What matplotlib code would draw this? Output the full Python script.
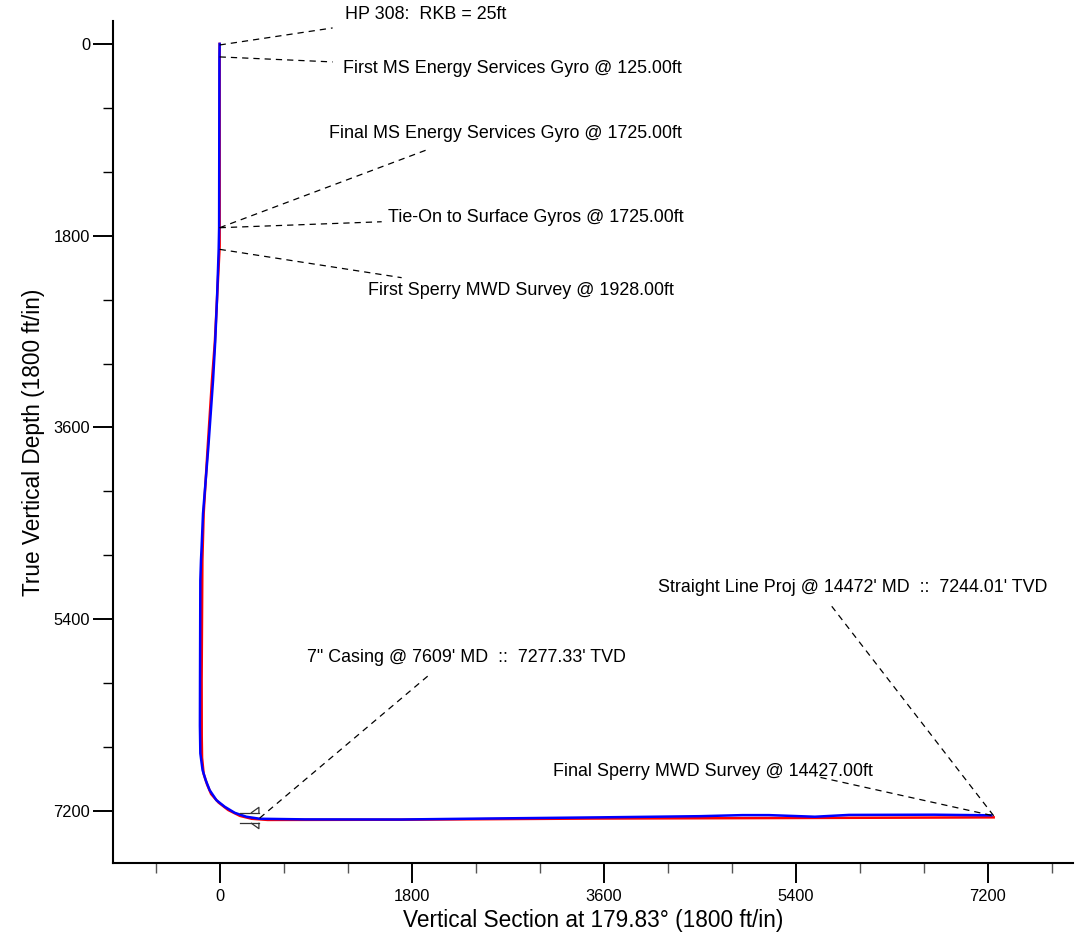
import matplotlib

matplotlib.use("Agg")
import matplotlib.pyplot as plt
from matplotlib.ticker import MultipleLocator

plt.rcParams["font.family"] = ["Liberation Sans", "DejaVu Sans"]

# actual wellbore (blue): vertical section, TVD
actual_vs = [0, -2, -5, -9, -25, -42, -62, -84, -106, -131, -156, -169, -175, -181, -184, -185,
             -181, -160, -131, -94, -31, 47, 141, 250, 375, 800, 1700, 2500, 3560, 4500, 4900,
             5150, 5580, 5900, 6700, 7234]
actual_tvd = [0, 125, 1725, 1928, 2400, 2800, 3159, 3472, 3784, 4097, 4409, 4722, 4847, 5034, 5972,
              6400, 6659, 6816, 6909, 7003, 7097, 7159, 7216, 7253, 7272, 7278, 7279, 7270, 7259,
              7248, 7238, 7238, 7253, 7236, 7234, 7240]

# planned wellbore (red)
plan_vs = [0, 0, -20, -45, -72, -112, -150, -162, -169, -168, -165, -150, -118, -80, -10, 80, 190,
           300, 450, 1700, 3500, 5000, 7256]
plan_tvd = [0, 1900, 2300, 2800, 3159, 3784, 4409, 4847, 5972, 6500, 6700, 6850, 6950, 7040, 7120,
            7190, 7245, 7272, 7283, 7281, 7270, 7266, 7259]

# annotations: label, well point, line end, text position
labels = [
    "HP 308:  RKB = 25ft",
    "First MS Energy Services Gyro @ 125.00ft",
    "Final MS Energy Services Gyro @ 1725.00ft",
    "Tie-On to Surface Gyros @ 1725.00ft",
    "First Sperry MWD Survey @ 1928.00ft",
    "Straight Line Proj @ 14472' MD  ::  7244.01' TVD",
    "7\" Casing @ 7609' MD  ::  7277.33' TVD",
    "Final Sperry MWD Survey @ 14427.00ft",
]
point_xy = [(0, 10), (0, 122), (0, 1725), (0, 1725), (0, 1928), (7256, 7244), (375, 7266), (7234, 7240)]
line_end_xy = [(1059, -150), (1059, 169), (1969, 984), (1519, 1669), (1706, 2194), (5738, 5278),
               (1950, 5934), (5578, 6872)]
text_xy = [(1172, -272), (1153, 234), (1022, 844), (1575, 1631), (1388, 2316), (4106, 5100),
           (816, 5756), (3122, 6825)]

casing_x, casing_tvd = 368, 7265


def main() -> None:
    fig = plt.figure(figsize=(10.78, 9.42), dpi=100)
    ax = fig.add_axes([0.1048, 0.0839, 0.8906, 0.8938])

    ax.plot(plan_vs, plan_tvd, color="#ff0000", linewidth=1.8, zorder=3)
    ax.plot(actual_vs, actual_tvd, color="#0000ff", linewidth=1.8, zorder=4)

    for label, (px, py), (lx, ly), (tx, ty) in zip(labels, point_xy, line_end_xy, text_xy):
        ax.plot([px, lx], [py, ly], color="black", linewidth=0.9, dashes=(5, 4), clip_on=False, zorder=5)
        ax.text(tx, ty, label, fontsize=12.9, ha="left", va="center", clip_on=False)

    # casing shoe symbol on both sides of the hole
    for sign in (-1, 1):
        y0 = casing_tvd + sign * 50
        ax.plot([casing_x - 180, casing_x], [y0, y0], color="#333333", linewidth=0.9, zorder=6)
        ax.plot([casing_x - 70, casing_x, casing_x], [y0, y0 + sign * 50, y0], color="#333333",
                linewidth=0.9, zorder=6)

    ax.set_xlim(-1000, 8000)
    ax.set_ylim(7687, -215)
    ax.xaxis.set_major_locator(MultipleLocator(1800))
    ax.xaxis.set_minor_locator(MultipleLocator(600))
    ax.yaxis.set_major_locator(MultipleLocator(1800))
    ax.yaxis.set_minor_locator(MultipleLocator(600))

    for side in ("top", "right"):
        ax.spines[side].set_visible(False)
    for side in ("left", "bottom"):
        ax.spines[side].set_linewidth(1.5)

    ax.tick_params(which="major", direction="out", length=14.4, width=1.4, labelsize=11.8)
    ax.tick_params(axis="y", which="major", pad=2)
    ax.tick_params(axis="x", which="major", pad=4)
    ax.tick_params(which="minor", direction="out", length=7.2, width=1.0)
    ax.tick_params(axis="x", which="minor", color="#555555")

    ax.set_xlabel("Vertical Section at 179.83° (1800 ft/in)", fontsize=16.3, labelpad=4)
    ax.set_ylabel("True Vertical Depth (1800 ft/in)", fontsize=16.3, labelpad=6)

    fig.savefig("out.png", dpi=100)
    plt.close(fig)


if __name__ == "__main__":
    main()
